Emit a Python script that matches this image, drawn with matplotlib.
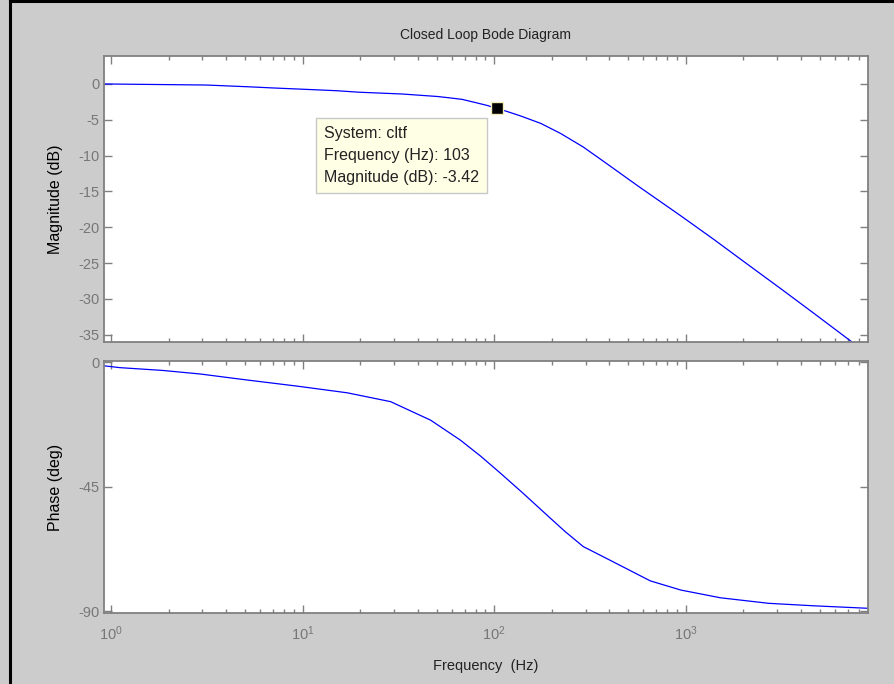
import numpy as np
import matplotlib.pyplot as plt
from matplotlib.lines import Line2D

plt.rcParams['font.family'] = ['Liberation Sans', 'DejaVu Sans']
plt.rcParams['axes.unicode_minus'] = False

# values
mag_freq = [0.92, 3.14, 5.27, 6.9, 11.4, 15.2, 19.6, 33, 50.6, 59, 68, 80, 92, 103,
            114, 137, 175, 222, 292, 391, 561, 943, 1404, 2088, 3150, 4670, 7050, 8000]
mag_db = [0, -0.15, -0.4, -0.55, -0.8, -0.95, -1.15, -1.4, -1.75, -1.95, -2.15, -2.6, -3.0, -3.42,
          -3.75, -4.45, -5.5, -6.9, -8.8, -11.2, -14.2, -18.4, -21.7, -25.1, -28.6, -32.0, -35.6, -36.7]

ph_freq = [0.91, 1.11, 1.85, 2.92, 4.9, 9.4, 17.1, 28.8, 46.6, 66.6, 85, 108,
           142, 197, 235, 292, 372, 654, 943, 1518, 2710, 4670, 8950]
ph_deg = [-1.3, -2.0, -3.0, -4.3, -6.3, -8.7, -11.1, -14.3, -21.0, -28.2, -34.0, -40.2,
          -47.5, -56.5, -61.3, -66.7, -70.4, -79.1, -82.4, -85.2, -87.2, -88.1, -89.0]

tip_freq = 103
tip_mag = -3.42

W, H = 894, 684
fig = plt.figure(figsize=(W / 100, H / 100), dpi=100, facecolor='#cccccc')

ax1 = fig.add_axes([104 / W, 1 - 342 / H, 764 / W, 286 / H])
ax2 = fig.add_axes([104 / W, 1 - 613 / H, 764 / W, 252 / H])

tick_col = '#777777'
spine_col = '#808080'

for ax in (ax1, ax2):
    ax.set_xscale('log')
    ax.set_xlim(0.918, 8950)
    ax.tick_params(which='both', direction='in', top=True, right=True,
                   color=spine_col, labelcolor=tick_col, labelsize=10.5)
    ax.tick_params(which='major', length=6, width=1)
    ax.tick_params(which='minor', length=3, width=1)
    ax.tick_params(axis='x', pad=8)
    for s in ax.spines.values():
        s.set_color(spine_col)
        s.set_linewidth(1.3)

ax1.plot(mag_freq, mag_db, color='#0000ff', lw=0.9)
ax1.set_ylim(-36, 3.9)
ax1.set_yticks([0, -5, -10, -15, -20, -25, -30, -35])
ax1.tick_params(labelbottom=False)
ax1.set_ylabel('Magnitude (dB)', fontsize=11.5)
ax1.yaxis.set_label_coords(-0.054, 0.5)
ax1.set_title('Closed Loop Bode Diagram', fontsize=10, color='#222222', pad=12)

ax1.plot([tip_freq], [tip_mag], 's', color='black', markersize=8.5,
         markeredgecolor='#f3eeb8', markeredgewidth=1)
ax1.annotate('System: cltf\nFrequency (Hz): %d\nMagnitude (dB): %.2f' % (tip_freq, tip_mag),
             xy=(tip_freq, tip_mag), xytext=(-173, -18), textcoords='offset pixels',
             ha='left', va='top', fontsize=11.5, color='#222222', linespacing=1.55,
             bbox=dict(boxstyle='square,pad=0.5', fc='#ffffe6', ec='#c8c8c8', lw=1))

ax2.plot(ph_freq, ph_deg, color='#0000ff', lw=0.9)
ax2.set_ylim(-90.7, 0.4)
ax2.set_yticks([0, -45, -90])
ax2.set_ylabel('Phase (deg)', fontsize=11.5)
ax2.yaxis.set_label_coords(-0.054, 0.5)
ax2.set_xlabel('Frequency  (Hz)', fontsize=10.5, color='#222222', labelpad=12)

# black frame edges of the screenshot
fig.add_artist(Line2D([9.5 / W, 9.5 / W], [0, 1], color='black', lw=2.2))
fig.add_artist(Line2D([9.5 / W, 1], [1 - 1 / H, 1 - 1 / H], color='black', lw=2.2))

fig.savefig('out.png', dpi=100, facecolor=fig.get_facecolor())
